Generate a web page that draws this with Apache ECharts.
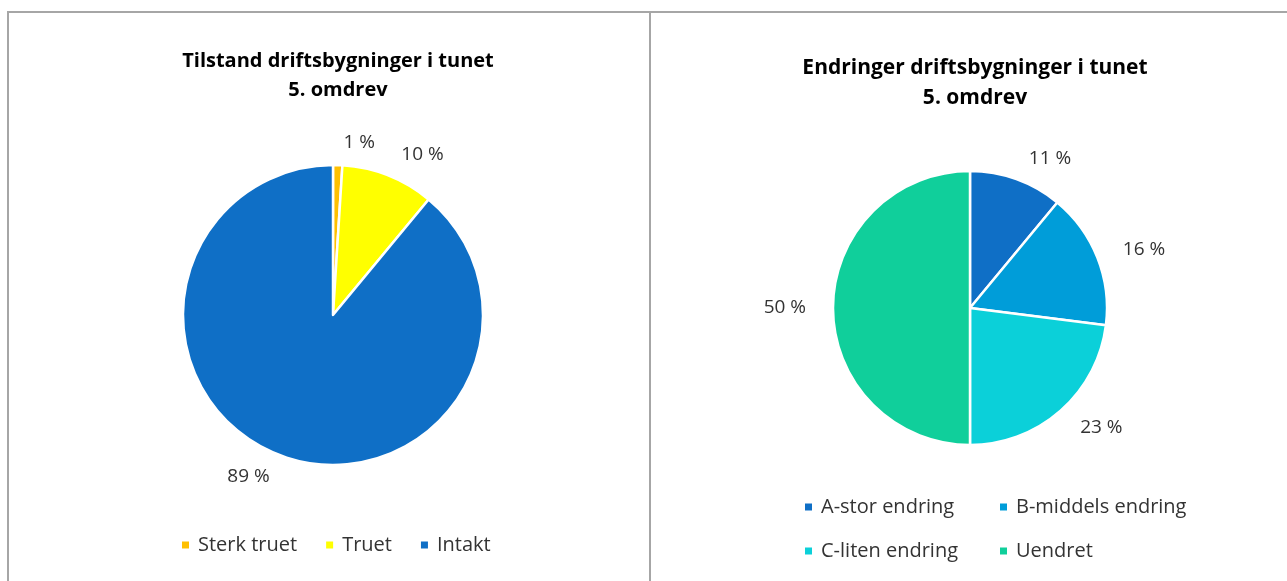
<html>

<head>
    <meta charset="utf-8">
    <title>Driftsbygninger i tunet</title>
    <script src="https://cdn.jsdelivr.net/npm/echarts@6/dist/echarts.min.js"></script>
</head>

<body style="margin:0;background:#fff;">
    <div id="main" style="width: 1287px;height:581px;"></div>
    <script type="text/javascript">

        // venstre diagram: tilstand
        var tilstandNavn = ['Sterk truet', 'Truet', 'Intakt'];
        var tilstandVerdi = [1, 10, 89];
        var tilstandFarge = ['#ffc000', '#ffff00', '#0f6fc6'];

        // høyre diagram: endringer
        var endringNavn = ['A-stor endring', 'B-middels endring', 'C-liten endring', 'Uendret'];
        var endringVerdi = [11, 16, 23, 50];
        var endringFarge = ['#0f6fc6', '#009dd9', '#0bd0d9', '#10cf9b'];

        var font = 'Open Sans';
        var myChart = echarts.init(document.getElementById('main'));

        function lagData(navn, verdi) {
            return navn.map(function (n, i) {
                return { name: n, value: verdi[i] };
            });
        }

        function prosent(params) {
            return Math.round(params.percent) + ' %';
        }

        var pieBase = {
            type: 'pie',
            startAngle: 90,
            clockwise: true,
            avoidLabelOverlap: false,
            emphasis: { scale: false },
            itemStyle: { borderColor: '#fff', borderWidth: 2.5 },
            label: {
                show: true,
                position: 'outside',
                formatter: prosent,
                color: '#333',
                fontFamily: font,
                fontSize: 19
            },
            labelLine: { show: false, length: 22, length2: 0 }
        };

        var legendText = { color: '#333', fontFamily: font, fontSize: 20, lineHeight: 22, padding: [0, 0, 0, 3] };

        option = {
            animation: false,
            title: [
                {
                    text: 'Tilstand driftsbygninger i tunet\n5. omdrev',
                    left: 333, top: 42, textAlign: 'center',
                    textStyle: { fontFamily: font, fontWeight: 'bold', fontSize: 20, lineHeight: 29, color: '#000' }
                },
                {
                    text: 'Endringer driftsbygninger i tunet\n5. omdrev',
                    left: 970, top: 48, textAlign: 'center',
                    textStyle: { fontFamily: font, fontWeight: 'bold', fontSize: 21, lineHeight: 30, color: '#000' }
                }
            ],
            legend: [
                {
                    data: tilstandNavn,
                    left: 175, top: 529,
                    icon: 'rect', itemWidth: 9, itemHeight: 9, itemGap: 27,
                    textStyle: legendText
                },
                {
                    data: [endringNavn[0], endringNavn[2]],
                    orient: 'vertical',
                    left: 798, top: 491,
                    icon: 'rect', itemWidth: 9, itemHeight: 9, itemGap: 22,
                    textStyle: legendText
                },
                {
                    data: [endringNavn[1], endringNavn[3]],
                    orient: 'vertical',
                    left: 993, top: 491,
                    icon: 'rect', itemWidth: 9, itemHeight: 9, itemGap: 22,
                    textStyle: legendText
                }
            ],
            graphic: [
                { type: 'line', shape: { x1: 7, y1: 12, x2: 1287, y2: 12 }, style: { stroke: '#a6a6a6', lineWidth: 2 } },
                { type: 'line', shape: { x1: 8, y1: 12, x2: 8, y2: 581 }, style: { stroke: '#a6a6a6', lineWidth: 2 } },
                { type: 'line', shape: { x1: 650, y1: 12, x2: 650, y2: 581 }, style: { stroke: '#a6a6a6', lineWidth: 2 } }
            ],
            series: [
                Object.assign({}, pieBase, {
                    name: 'Tilstand',
                    center: [333, 315],
                    radius: 150,
                    color: tilstandFarge,
                    data: lagData(tilstandNavn, tilstandVerdi)
                }),
                Object.assign({}, pieBase, {
                    name: 'Endringer',
                    center: [970, 308],
                    radius: 137,
                    color: endringFarge,
                    data: lagData(endringNavn, endringVerdi)
                })
            ]
        };

        myChart.setOption(option);
    </script>
</body>

</html>
